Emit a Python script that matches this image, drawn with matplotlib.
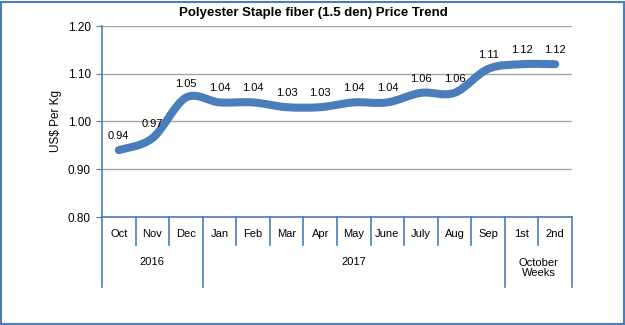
import matplotlib
matplotlib.use("Agg")
import matplotlib.pyplot as plt
from matplotlib.path import Path
from matplotlib.patches import PathPatch, Rectangle
import numpy as np

plt.rcParams['font.family'] = ['Liberation Sans', 'DejaVu Sans']

# data
months = ["Oct", "Nov", "Dec", "Jan", "Feb", "Mar", "Apr", "May", "June",
          "July", "Aug", "Sep", "1st", "2nd"]
prices = [0.94, 0.965, 1.05, 1.04, 1.04, 1.03, 1.03, 1.04, 1.04,
          1.06, 1.06, 1.11, 1.12, 1.12]
price_labels = ["0.94", "0.97", "1.05", "1.04", "1.04", "1.03", "1.03", "1.04", "1.04",
                "1.06", "1.06", "1.11", "1.12", "1.12"]
groups = ["2016", "2017", "October\nWeeks"]
group_spans = [(0, 3), (3, 12), (12, 14)]
yticks = [0.80, 0.90, 1.00, 1.10, 1.20]

BLUE = "#4a7ebb"
W, H = 625, 325

fig = plt.figure(figsize=(6.25, 3.25), dpi=100)
ax = fig.add_axes([102 / W, 1 - 217 / H, 470 / W, 191 / H])

# smoothed line (Catmull-Rom as bezier, like Excel "smoothed line")
pts = np.column_stack([np.arange(len(prices)), prices])
verts = [pts[0]]
codes = [Path.MOVETO]
for i in range(len(pts) - 1):
    p0 = pts[max(i - 1, 0)]
    p1 = pts[i]
    p2 = pts[i + 1]
    p3 = pts[min(i + 2, len(pts) - 1)]
    verts += [p1 + (p2 - p0) / 6, p2 - (p3 - p1) / 6, p2]
    codes += [Path.CURVE4] * 3
ax.add_patch(PathPatch(Path(verts, codes), fill=False, edgecolor=BLUE,
                       lw=5.8, capstyle="round", joinstyle="round", zorder=3))

for i, (v, lab) in enumerate(zip(prices, price_labels)):
    ax.annotate(lab, (i, v), xytext=(0, 6.5), textcoords="offset points",
                ha="center", va="bottom", fontsize=8, color="black", zorder=4)

ax.set_xlim(-0.5, len(months) - 0.5)
ax.set_ylim(0.80, 1.20)
ax.set_yticks(yticks)
ax.set_yticklabels([f"{t:.2f}" for t in yticks], fontsize=8.5)
ax.yaxis.grid(True, color="#a6a6a6", lw=1.0)
ax.set_axisbelow(True)
ax.tick_params(axis="y", length=4, color=BLUE, pad=4)
ax.set_xticks([])
for s in ["top", "right"]:
    ax.spines[s].set_visible(False)
ax.spines["left"].set_color(BLUE)
ax.spines["bottom"].set_color(BLUE)
ax.spines["left"].set_linewidth(1.2)
ax.spines["bottom"].set_linewidth(1.2)
ax.set_ylabel("US$ Per Kg", fontsize=8.5, labelpad=4)

# category axis: dividers and labels
tr = ax.get_xaxis_transform()
ax_h = 191.0
short = -28 / ax_h
long_ = -70 / ax_h
group_edges = {a for a, b in group_spans} | {b for a, b in group_spans}
for k in range(len(months) + 1):
    y1 = long_ if k in group_edges else short
    ax.plot([k - 0.5, k - 0.5], [0, y1], transform=tr, color=BLUE, lw=1.2,
            clip_on=False)
for i, m in enumerate(months):
    ax.text(i, -17 / ax_h, m, transform=tr, ha="center", va="center", fontsize=8)
for g, (a, b) in zip(groups, group_spans):
    yy = -45 / ax_h if "\n" not in g else -51 / ax_h
    ax.text((a + b - 1) / 2, yy, g, transform=tr, ha="center", va="center",
            fontsize=8, linespacing=1.1)

fig.text(313 / W, 1 - 13 / H, "Polyester Staple fiber (1.5 den) Price Trend",
         ha="center", va="center", fontsize=9.5, fontweight="bold",
         family=["Liberation Sans Narrow", "Liberation Sans", "DejaVu Sans"])

fig.patches.append(Rectangle((1.5 / W, 1.5 / H), 1 - 3 / W, 1 - 3 / H,
                             transform=fig.transFigure, fill=False,
                             edgecolor=BLUE, lw=1.5))

fig.savefig("out.png", dpi=100)
